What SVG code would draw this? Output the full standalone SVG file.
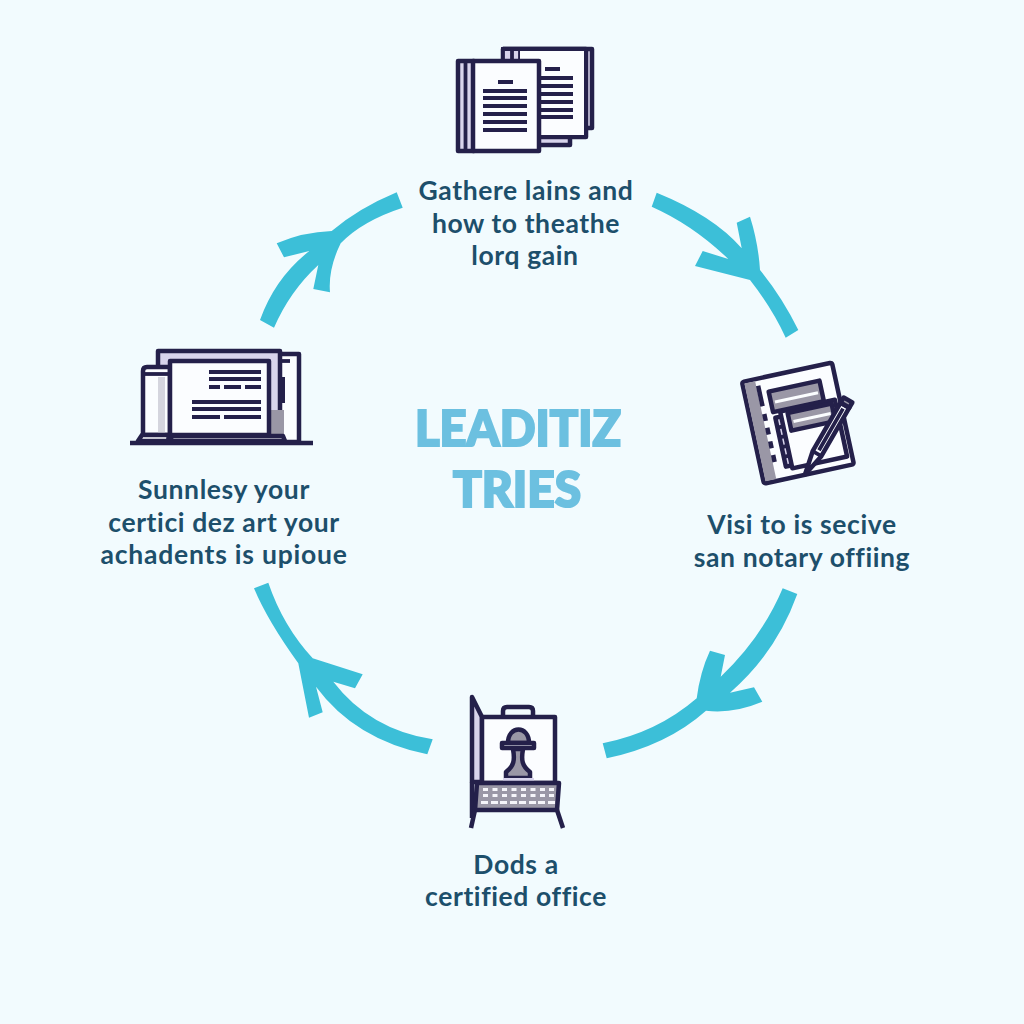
<svg xmlns="http://www.w3.org/2000/svg" width="1024" height="1024" viewBox="0 0 1024 1024">
  <style>
    .bg { fill: #f2fbfe; }
    .label { font-family: "Lato", "Open Sans", sans-serif; font-size: 26.500px; font-weight: 700; letter-spacing: 0.6px; fill: #1d4f6b; text-anchor: middle; }
    .title { font-family: "Lato", "Open Sans", sans-serif; font-size: 50px; font-weight: 900; fill: #6cc0e0; stroke: #6cc0e0; stroke-width: 2.200px; text-anchor: middle; }
    .flow { fill: #3cbfd8; stroke: none; }
    .ink { stroke: #24204a; stroke-width: 4.500; stroke-linejoin: round; stroke-linecap: butt; }
    .thin { stroke: #24204a; stroke-width: 3.800; fill: none; }
    .paper { fill: #fbfdff; }
    .lav { fill: #d8d4ec; }
    .grey { fill: #9a97a6; }
    .open { fill: none; }
    .key { fill: #f5f5fa; }
  </style>
  <rect class="bg" width="1024" height="1024"/>

  <g id="connectors">
    <path class="flow" d="M656.700 192.700 Q714 216 741.700 248.300 L736.700 222.700 L750 216.700 Q758.300 243 760 270 Q782 297 798.300 330 L785.700 337.700 Q772 308 750 280 L695 266 L702.700 251 L728.300 259 Q693 225 651.700 206.700 Z"/>
    <path class="flow" d="M782.700 588.300 L797.300 594 Q776 653 730 692.700 L754 687.300 L762.300 701.700 Q733 714 706 710.700 Q667 745.500 606.700 758.300 L602.700 743.300 Q657 732.600 696.700 698.300 Q700 672 710 650.700 L725 655 L720.700 676.700 Q762 637.500 782.700 588.300 Z"/>
    <path class="flow" d="M254 588.300 L268.300 582.700 Q283 626 312.700 658.300 L362.700 674.300 L355 688.300 L333.300 681.700 Q370 729.500 432.700 739.300 L427.300 754.300 Q355 739.500 316 686.700 L322.700 712.300 L309 717.700 L298.300 663.300 Q267.500 620.700 254 588.300 Z"/>
    <path class="flow" d="M260 320 Q275 278 309.300 251 L284 257.300 L276.700 243.300 Q303 232 331.700 231 Q359 208 396.700 192.300 L402.700 207.700 Q362 221 340.700 243.300 Q328 269 330 292.300 L313.300 289 L318.300 265 Q290 291 274 327.700 Z"/>
  </g>

  <g id="center-title">
    <text class="title" x="518" y="446" textLength="206" lengthAdjust="spacingAndGlyphs">LEADITIZ</text>
    <text class="title" x="517" y="507" textLength="128" lengthAdjust="spacingAndGlyphs">TRIES</text>
  </g>

  <g id="node-gather">
    <path class="ink lav" d="M503 49 H592 V128 H585 V49"/>
    <rect class="ink paper" x="503" y="49" width="83" height="88"/>
    <path class="ink lav" d="M535 137 H570 V145 H535 Z"/>
    <path class="thin lav" d="M503 49 H520 V64 H503 Z"/>
    <path class="thin" d="M512 49 V64"/>
    <rect class="paper" x="520" y="51" width="64" height="84"/>
    <path class="thin" d="M520 49 H586 V137"/>
    <path class="thin" d="M545 69 H560 M540 78 H573 M540 86 H573 M540 94 H573 M540 102 H573 M540 110 H573 M540 117 H573"/>
    <rect class="ink lav" x="458" y="61" width="16" height="90"/>
    <path class="thin" d="M465.500 61 V151"/>
    <rect class="ink paper" x="473" y="61" width="66" height="90"/>
    <path class="thin" d="M498 82 H513 M483 91 H527 M483 98 H527 M483 106 H527 M483 114 H527 M483 122 H527 M483 130 H527"/>
  </g>
  <text class="label" x="526" y="200">Gathere lains and</text>
  <text class="label" x="526" y="233">how to theathe</text>
  <text class="label" x="525" y="265">lorq gain</text>

  <g id="node-visit">
    <g transform="translate(742 382) rotate(-12.200)">
      <rect class="ink paper" x="0" y="0" width="92" height="104" rx="2"/>
      <rect class="grey" x="2" y="2" width="11" height="100"/>
      <path class="ink open" d="M15 7 V28 M15 36 V43 M15 50 V57 M15 64 V71 M15 78 V85"/>
      <rect class="ink grey" x="24" y="15" width="52" height="21"/>
      <rect x="28" y="25" width="44" height="3" fill="#fbfdff"/>
      <rect class="ink lav" x="25" y="42" width="8" height="50"/>
      <path class="thin" d="M25 52 H33 M25 62 H33 M25 72 H33 M25 82 H33"/>
      <rect class="ink paper" x="31" y="37" width="56" height="58"/>
      <rect class="ink grey" x="38" y="40" width="45" height="18"/>
      <rect x="42" y="48" width="38" height="3" fill="#fbfdff"/>
    </g>
    <g transform="translate(848 400) rotate(30)">
      <path class="ink paper" d="M-5 6 L5 6 L5 62 L0 86 L-5 62 Z"/>
      <path class="ink grey" d="M-5 0 L5 0 L5 6 L-5 6 Z"/>
      <path class="thin" d="M-5 62 H5 M0 10 V58"/>
    </g>
  </g>
  <text class="label" x="802" y="534">Visi to is secive</text>
  <text class="label" x="802" y="567">san notary offiing</text>

  <g id="node-office">
    <path class="ink lav" d="M472 697 L482 717 V782 H472 Z"/>
    <path class="ink open" d="M472 782 V818"/>
    <path class="ink open" d="M503 716 V711 Q503 707 507 707 H529 Q533 707 533 711 V716"/>
    <rect class="ink paper" x="482" y="717" width="73" height="66"/>
    <path class="ink grey" d="M508 743 C508 725 529 725 529 743 Z"/>
    <rect class="ink paper" x="502" y="743" width="32" height="5"/>
    <path class="ink grey" d="M513 749 H523 C521 760 522 766 530 772 V778 H506 V772 C514 766 515 760 513 749 Z"/>
    <rect class="lav" x="503" y="778" width="31" height="4"/>
    <path class="ink grey" d="M477 783 H559 L557 810 H475 Z"/>
    <g class="key">
      <rect x="483" y="788" width="5" height="3"/><rect x="492.500" y="788" width="5" height="3"/><rect x="502" y="788" width="5" height="3"/><rect x="511.500" y="788" width="5" height="3"/><rect x="521" y="788" width="5" height="3"/><rect x="530.500" y="788" width="5" height="3"/><rect x="540" y="788" width="5" height="3"/><rect x="549" y="788" width="5" height="3"/>
      <rect x="483" y="794" width="5" height="3"/><rect x="492.500" y="794" width="5" height="3"/><rect x="502" y="794" width="5" height="3"/><rect x="511.500" y="794" width="5" height="3"/><rect x="521" y="794" width="5" height="3"/><rect x="530.500" y="794" width="5" height="3"/><rect x="540" y="794" width="5" height="3"/><rect x="549" y="794" width="5" height="3"/>
      <rect x="481" y="801" width="7" height="3"/><rect x="491" y="801" width="7" height="3"/><rect x="500" y="801" width="7" height="3"/><rect x="510" y="801" width="7" height="3"/><rect x="519" y="801" width="7" height="3"/><rect x="529" y="801" width="7" height="3"/><rect x="538" y="801" width="7" height="3"/><rect x="548" y="801" width="7" height="3"/>
    </g>
    <path class="ink open" d="M475 810 L471 828 M557 810 L563 828"/>
  </g>
  <text class="label" x="516" y="874">Dods a</text>
  <text class="label" x="516" y="906">certified office</text>

  <g id="node-summarize">
    <rect class="ink paper" x="270" y="354" width="29" height="88"/>
    <path class="thin" d="M280 361 H290"/>
    <rect class="ink lav" x="158" y="351" width="122" height="88"/>
    <path d="M282 377 V403" stroke="#24204a" stroke-width="6"/>
    <rect x="271" y="410" width="13" height="26" fill="#9a97a6"/>
    <path class="ink paper" d="M143 435 V371 Q143 367 147 367 H170 V435 Z"/>
    <path class="thin" d="M143 374 H170"/>
    <rect x="158" y="377" width="7" height="56" fill="#d5d5de"/>
    <rect class="ink paper" x="170" y="361" width="99" height="74"/>
    <path class="thin" d="M209 372 H261 M209 379 H261 M209 387 H220 M224 387 H241 M245 387 H261 M192 402 H261 M192 409 H261 M192 417 H220 M224 417 H261"/>
    <path class="ink paper" d="M138 441 L142 435 H169 L168 441 Z"/>
    <path class="ink paper" d="M170 441 L172 436 H283 L285 441 Z"/>
    <path d="M130 443 H313" stroke="#24204a" stroke-width="4.500"/>
  </g>
  <text class="label" x="224" y="499">Sunnlesy your</text>
  <text class="label" x="224" y="532">certici dez art your</text>
  <text class="label" x="224" y="564" textLength="247">achadents is upioue</text>
</svg>
